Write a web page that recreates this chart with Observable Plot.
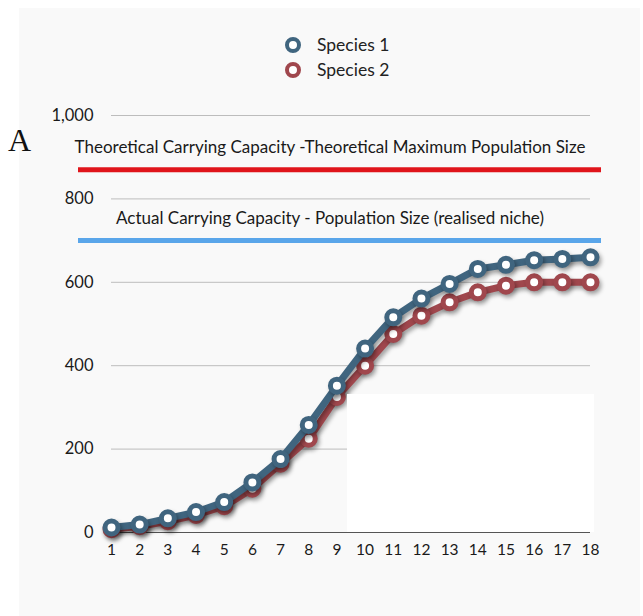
<!DOCTYPE html>
<html>
<head>
<meta charset="utf-8">
<script src="https://cdn.jsdelivr.net/npm/d3@7"></script>
<script src="https://cdn.jsdelivr.net/npm/@observablehq/plot@0.6"></script>
<style>
  html, body { margin: 0; padding: 0; background: #ffffff; }
  #wrap { position: relative; width: 643px; height: 616px; overflow: hidden; font-family: Lato, "Open Sans", sans-serif; }
  #panel { position: absolute; left: 19px; top: 8px; width: 621px; height: 608px; background: #f9f9f9; }
  #chart { position: absolute; left: 0; top: 0; }
  #legend { position: absolute; left: 282px; top: 32px; font-size: 17.5px; color: #222; line-height: 25px; }
  #legend .item { display: flex; align-items: center; }
  #legend svg { margin-right: 13px; }
  #letterA { position: absolute; left: 8px; top: 122px; font-family: "Liberation Serif", "DejaVu Serif", serif; font-size: 32px; color: #111; }
  #cover { position: absolute; left: 347px; top: 394px; width: 247px; height: 138px; background: #ffffff; }
</style>
</head>
<body>
<div id="wrap">
  <div id="panel"></div>
  <div id="chart"></div>
  <div id="cover"></div>
  <div id="legend"></div>
  <div id="letterA">A</div>
</div>
<script>
// Data
const generations = [1,2,3,4,5,6,7,8,9,10,11,12,13,14,15,16,17,18];
const species1 = [12,19,34,49,73,120,176,258,352,441,516,561,596,632,642,653,656,660];
const species2 = [8,15,27,42,63,105,165,225,325,400,476,520,552,576,592,600,600,600];
const seriesNames = ["Species 1", "Species 2"];
const seriesColors = ["#40657f", "#a0474d"];
const yTicks = [0,200,400,600,800,1000];
const capacities = [870, 700];
const capacityLabels = [
  "Theoretical Carrying Capacity -Theoretical Maximum Population Size",
  "Actual Carrying Capacity - Population Size (realised niche)"
];
const capacityColors = ["#e0151b", "#5aa6ea"];

const s1 = generations.map((g, i) => ({g, v: species1[i]}));
const s2 = generations.map((g, i) => ({g, v: species2[i]}));
const caps = capacities.map((c, i) => ({c, label: capacityLabels[i], color: capacityColors[i]}));

const shadow = "drop-shadow(2px 3px 2px rgba(0,0,0,0.35))";

const plot = Plot.plot({
  width: 643,
  height: 616,
  marginLeft: 111,
  marginRight: 53,
  marginTop: 115,
  marginBottom: 84,
  style: { background: "transparent", fontFamily: "Lato, 'Open Sans', sans-serif", fontSize: "15px", color: "#1a1a1a" },
  x: { domain: [1, 18], label: null },
  y: { domain: [0, 1000], label: null },
  marks: [
    Plot.gridY(yTicks.filter(d => d > 0), { stroke: "#bdbdbd", strokeOpacity: 1, strokeWidth: 1 }),
    Plot.axisY(yTicks, { tickFormat: d3.format(","), tickSize: 0, tickPadding: 18, fontSize: 16.5, fill: "#1a1a1a", label: null }),
    Plot.axisX(generations, { tickFormat: d => String(d), tickSize: 0, tickPadding: 11, fontSize: 15.5, fill: "#1a1a1a", label: null }),
    Plot.ruleY([0], { stroke: "#555", strokeWidth: 1.2 }),
    Plot.ruleY(caps, { y: "c", stroke: "color", strokeWidth: 5, insetLeft: -33, insetRight: -11 }),
    Plot.text(caps, { y: "c", text: "label", dy: -22, dx: -21, fontSize: 17, fill: "#1a1a1a", frameAnchor: "middle" }),
    Plot.line(s2, { x: "g", y: "v", stroke: seriesColors[1], strokeWidth: 7, imageFilter: shadow }),
    Plot.dot(s2, { x: "g", y: "v", r: 6.5, stroke: seriesColors[1], strokeWidth: 5, fill: "white", fillOpacity: 1, imageFilter: shadow }),
    Plot.line(s1, { x: "g", y: "v", stroke: seriesColors[0], strokeWidth: 7, imageFilter: shadow }),
    Plot.dot(s1, { x: "g", y: "v", r: 6.5, stroke: seriesColors[0], strokeWidth: 5, fill: "white", fillOpacity: 1, imageFilter: shadow })
  ]
});
document.getElementById("chart").appendChild(plot);

// Legend
const legend = document.getElementById("legend");
seriesNames.forEach((name, i) => {
  const item = document.createElement("div");
  item.className = "item";
  item.innerHTML = `<svg width="22" height="22"><circle cx="11" cy="11" r="6" fill="white" stroke="${seriesColors[i]}" stroke-width="4"/></svg><span>${name}</span>`;
  legend.appendChild(item);
});
</script>
</body>
</html>
